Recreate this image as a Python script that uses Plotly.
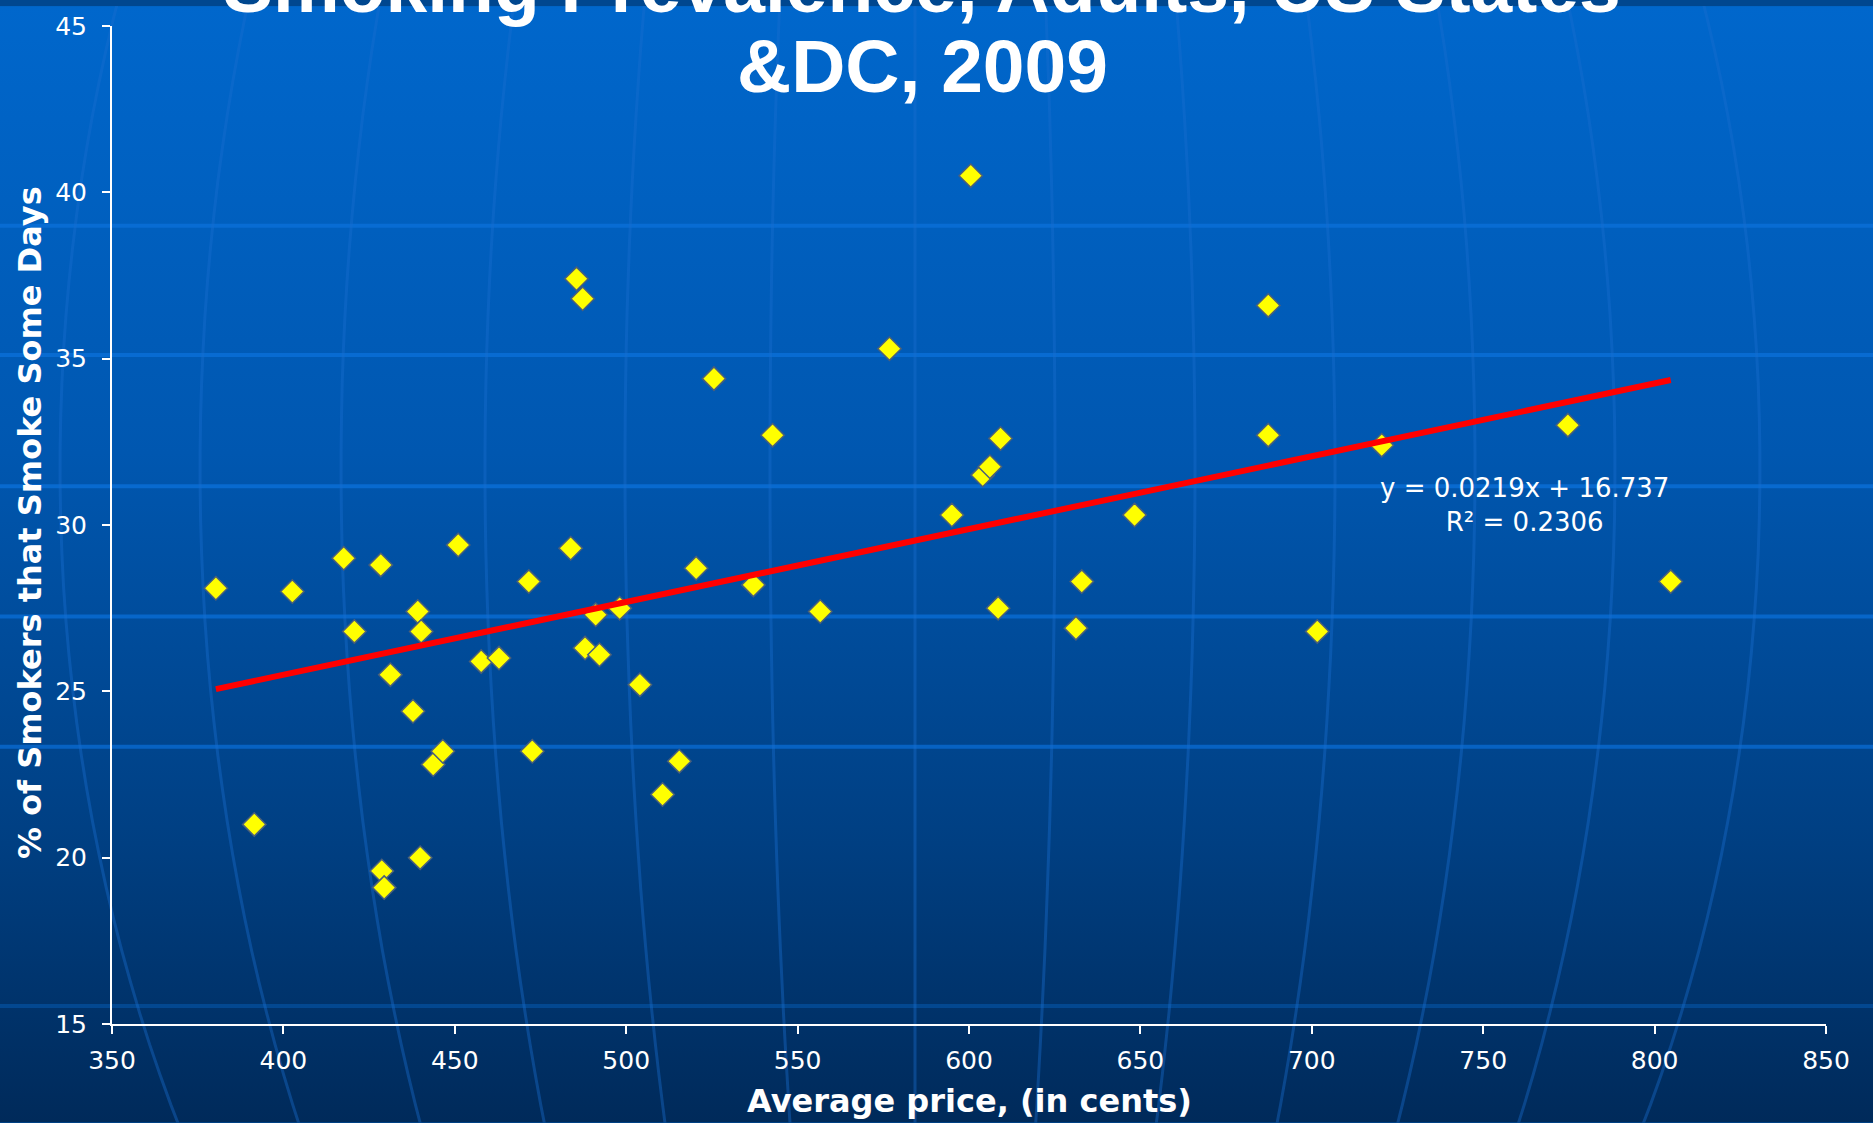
import base64
import numpy as np
import plotly.graph_objects as go

# ---------------- data ----------------
price = [380.3, 391.5, 402.6, 417.6, 420.7, 428.4, 428.7, 429.4, 431.2, 437.8,
         439.2, 439.9, 440.2, 443.7, 446.5, 451.0, 457.7, 462.9, 471.6, 472.6,
         483.8, 485.5, 487.3, 488.0, 491.1, 492.2, 498.1, 504.0, 510.6, 515.5,
         520.4, 525.6, 537.1, 542.7, 556.6, 576.8, 595.0, 600.5, 604.0, 606.1,
         608.5, 609.2, 631.2, 632.9, 648.3, 687.3, 687.3, 701.6, 720.4, 774.7,
         804.7]
pct_some_days = [28.1, 21.0, 28.0, 29.0, 26.8, 28.8, 19.6, 19.1, 25.5, 24.4,
                 27.4, 20.0, 26.8, 22.8, 23.2, 29.4, 25.9, 26.0, 28.3, 23.2,
                 29.3, 37.4, 36.8, 26.3, 27.3, 26.1, 27.5, 25.2, 21.9, 22.9,
                 28.7, 34.4, 28.2, 32.7, 27.4, 35.3, 30.3, 40.5, 31.5, 31.75,
                 27.5, 32.6, 26.9, 28.3, 30.3, 36.6, 32.7, 26.8, 32.4, 33.0,
                 28.3]
trend_slope = 0.0219
trend_intercept = 16.737
r_squared = 0.2306
x_ticks = [350, 400, 450, 500, 550, 600, 650, 700, 750, 800, 850]
y_ticks = [15, 20, 25, 30, 35, 40, 45]
title_lines = ["Smoking Prevalence, Adults, US States", "&DC, 2009"]
x_title = "Average price, (in cents)"
y_title = "% of Smokers that Smoke Some Days"

# ---------------- canvas geometry ----------------
W, H = 1873, 1123
ML, MR, MT, MB = 112, 47, 20, 99
PW, PH = W - ML - MR, H - MT - MB

# ---------------- background (blue globe) as SVG ----------------
parallels = [(221, 0.8), (351, 0.8), (483, 0.8), (614, 0.75), (745, 0.7), (1006, 0.35)]
cx, cy, R = 915, 465, 1300
merid_offsets = [-855, -715, -574, -430, -290, -145, 0, 140, 280, 420, 560, 700, 845]
parts = [
    f'<svg xmlns="http://www.w3.org/2000/svg" width="{W}" height="{H}" viewBox="0 0 {W} {H}">',
    '<defs><linearGradient id="g" x1="0" y1="0" x2="0" y2="1">'
    '<stop offset="0" stop-color="#0067cc"/>'
    '<stop offset="0.4" stop-color="#0057b0"/>'
    '<stop offset="0.75" stop-color="#003f82"/>'
    '<stop offset="1" stop-color="#002a5a"/>'
    '</linearGradient></defs>',
    f'<rect x="0" y="0" width="{W}" height="{H}" fill="url(#g)"/>',
]
for py, op in parallels:
    parts.append(f'<line x1="0" y1="{py}" x2="{W}" y2="{py}" stroke="#0a6fd8" stroke-opacity="{op}" stroke-width="4"/>')
t = np.linspace(-np.pi / 2, np.pi / 2, 120)
for a in merid_offsets:
    xs = cx + a * np.cos(t)
    ys = cy + R * np.sin(t)
    d = "M" + " L".join(f"{x:.1f},{y:.1f}" for x, y in zip(xs, ys))
    parts.append(f'<path d="{d}" fill="none" stroke="#1a6fd0" stroke-opacity="0.4" stroke-width="3"/>')
parts.append("</svg>")
svg = "".join(parts)
bg_src = "data:image/svg+xml;base64," + base64.b64encode(svg.encode()).decode()

# ---------------- figure ----------------
fig = go.Figure()

fig.add_trace(go.Scatter(
    x=price, y=pct_some_days, mode="markers",
    marker=dict(symbol="diamond", size=18, color="#ffff00",
                line=dict(color="#4a5f7a", width=1.5)),
    showlegend=False, hoverinfo="x+y",
))

trend_x = [min(price), max(price)]
trend_y = [trend_slope * v + trend_intercept for v in trend_x]
fig.add_trace(go.Scatter(
    x=trend_x, y=trend_y, mode="lines",
    line=dict(color="#ff0000", width=6), showlegend=False, hoverinfo="skip",
))

fig.add_annotation(
    x=762, y=30.6, xref="x", yref="y", showarrow=False, align="center",
    text=f"y = {trend_slope}x + {trend_intercept}<br>R² = {r_squared}",
    font=dict(family="DejaVu Sans", size=26, color="white"),
)

title_font = dict(family="Liberation Sans, Arial", size=75, color="white", weight="bold")
fig.add_annotation(x=0.4726, y=1.0398, xref="paper", yref="paper", showarrow=False,
                   text=title_lines[0], font=title_font, yanchor="middle", xanchor="center")
fig.add_annotation(x=0.4726, y=0.960, xref="paper", yref="paper", showarrow=False,
                   text=title_lines[1], font=title_font, yanchor="middle", xanchor="center")

axis_title_font = dict(family="DejaVu Sans", size=32, color="white", weight="bold")
fig.add_annotation(x=0.500, y=-0.0767, xref="paper", yref="paper", showarrow=False,
                   text=x_title, font=axis_title_font, xanchor="center", yanchor="middle")
fig.add_annotation(x=-0.0478, y=0.502, xref="paper", yref="paper", showarrow=False,
                   text=y_title, font=axis_title_font, textangle=-90,
                   xanchor="center", yanchor="middle")

fig.add_layout_image(dict(
    source=bg_src, xref="paper", yref="paper",
    x=-ML / PW, y=1 + MT / PH, sizex=W / PW, sizey=H / PH,
    xanchor="left", yanchor="top", sizing="stretch", layer="below",
))

axis_common = dict(
    showgrid=False, zeroline=False, showline=True, linecolor="white", linewidth=2,
    ticks="outside", tickcolor="white", ticklen=8, tickwidth=2,
    tickfont=dict(family="DejaVu Sans", size=25, color="white"),
)
fig.update_xaxes(
    range=[350, 850], tickvals=x_ticks, ticktext=[str(v) for v in x_ticks],
    ticklabelstandoff=5, **axis_common,
)
fig.update_yaxes(
    range=[15, 45], tickvals=y_ticks, ticktext=[str(v) for v in y_ticks],
    ticklabelstandoff=10, **axis_common,
)

fig.update_layout(
    width=W, height=H, autosize=False,
    margin=dict(l=ML, r=MR, t=MT, b=MB, pad=0),
    paper_bgcolor="#00478f", plot_bgcolor="rgba(0,0,0,0)",
    showlegend=False,
)

fig.write_html("out.html", config={"displayModeBar": False},
               post_script="document.body.style.margin='0';")
